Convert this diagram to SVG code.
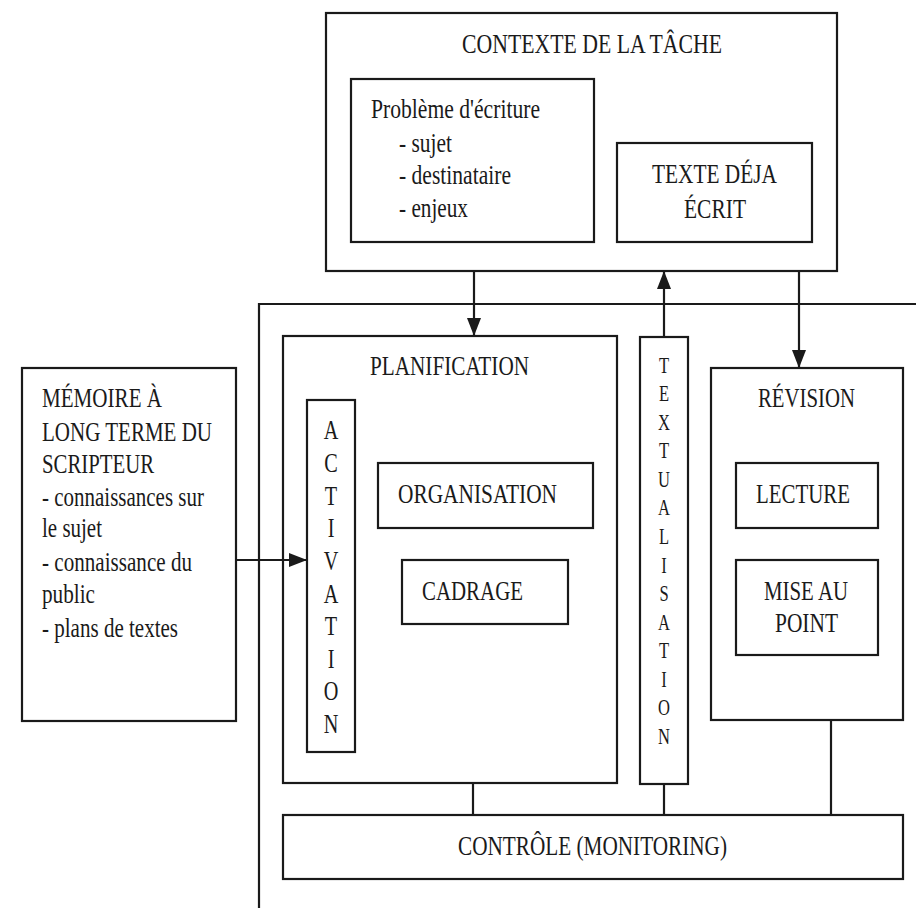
<svg xmlns="http://www.w3.org/2000/svg" width="916" height="908" viewBox="0 0 916 908">
<style>
.b{fill:none;stroke:#1a1a1a;stroke-width:2.2}
.c{fill:none;stroke:#1a1a1a;stroke-width:2.2}
text{font-family:"Liberation Serif","Times New Roman",serif;font-size:27px;fill:#1a1a1a}
.v{text-anchor:middle}
</style>
<defs>
<marker id="ah" markerUnits="userSpaceOnUse" markerWidth="18" markerHeight="14" refX="18" refY="7" orient="auto">
<path d="M0,0 L18,7 L0,14 z" fill="#1a1a1a"/>
</marker>
</defs>
<rect width="916" height="908" fill="#fff"/>
<path class="b" d="M259,908 V304 H916"/>
<g id="contexte">
<rect class="b" x="326" y="13" width="511" height="258"/>
<text x="462" y="53" textLength="260" lengthAdjust="spacingAndGlyphs">CONTEXTE DE LA TÂCHE</text>
</g>
<g id="probleme">
<rect class="b" x="351" y="79" width="243" height="163"/>
<text x="371" y="118" textLength="169" lengthAdjust="spacingAndGlyphs">Problème d'écriture</text>
<text x="399" y="152" textLength="53" lengthAdjust="spacingAndGlyphs">- sujet</text>
<text x="399" y="184" textLength="112" lengthAdjust="spacingAndGlyphs">- destinataire</text>
<text x="399" y="217" textLength="69" lengthAdjust="spacingAndGlyphs">- enjeux</text>
</g>
<g id="texte">
<rect class="b" x="617" y="143" width="195" height="99"/>
<text x="652" y="183" textLength="125" lengthAdjust="spacingAndGlyphs">TEXTE DÉJA</text>
<text x="684" y="218" textLength="62" lengthAdjust="spacingAndGlyphs">ÉCRIT</text>
</g>
<g id="memoire">
<rect class="b" x="22" y="368" width="214" height="353"/>
<text x="42" y="407" textLength="120" lengthAdjust="spacingAndGlyphs">MÉMOIRE À</text>
<text x="42" y="441" textLength="170" lengthAdjust="spacingAndGlyphs">LONG TERME DU</text>
<text x="42" y="473" textLength="112" lengthAdjust="spacingAndGlyphs">SCRIPTEUR</text>
<text x="42" y="506" textLength="162" lengthAdjust="spacingAndGlyphs">- connaissances sur</text>
<text x="42" y="537" textLength="60" lengthAdjust="spacingAndGlyphs">le sujet</text>
<text x="42" y="571" textLength="150" lengthAdjust="spacingAndGlyphs">- connaissance du</text>
<text x="42" y="603" textLength="53" lengthAdjust="spacingAndGlyphs">public</text>
<text x="42" y="637" textLength="136" lengthAdjust="spacingAndGlyphs">- plans de textes</text>
</g>
<g id="planification">
<rect class="b" x="283" y="336" width="334" height="447"/>
<text x="370" y="375" textLength="159" lengthAdjust="spacingAndGlyphs">PLANIFICATION</text>
</g>
<g id="activation">
<rect class="b" x="307" y="400" width="48" height="352"/>
<text class="v" transform="translate(331 0) scale(0.75 1)">
<tspan x="0" y="439">A</tspan><tspan x="0" y="472">C</tspan><tspan x="0" y="505">T</tspan><tspan x="0" y="537">I</tspan><tspan x="0" y="570">V</tspan><tspan x="0" y="603">A</tspan><tspan x="0" y="635">T</tspan><tspan x="0" y="668">I</tspan><tspan x="0" y="700">O</tspan><tspan x="0" y="733">N</tspan>
</text>
</g>
<g id="organisation">
<rect class="b" x="378" y="463" width="215" height="65"/>
<text x="398" y="503" textLength="159" lengthAdjust="spacingAndGlyphs">ORGANISATION</text>
</g>
<g id="cadrage">
<rect class="b" x="402" y="560" width="166" height="64"/>
<text x="422" y="600" textLength="101" lengthAdjust="spacingAndGlyphs">CADRAGE</text>
</g>
<g id="textualisation">
<rect class="b" x="640" y="337" width="48" height="447"/>
<text class="v" style="font-size:23px" transform="translate(664 0) scale(0.72 1)">
<tspan x="0" y="373">T</tspan><tspan x="0" y="401">E</tspan><tspan x="0" y="430">X</tspan><tspan x="0" y="458">T</tspan><tspan x="0" y="487">U</tspan><tspan x="0" y="515">A</tspan><tspan x="0" y="544">L</tspan><tspan x="0" y="573">I</tspan><tspan x="0" y="601">S</tspan><tspan x="0" y="630">A</tspan><tspan x="0" y="658">T</tspan><tspan x="0" y="687">I</tspan><tspan x="0" y="715">O</tspan><tspan x="0" y="744">N</tspan>
</text>
</g>
<g id="revision">
<rect class="b" x="711" y="368" width="192" height="352"/>
<text x="758" y="407" textLength="97" lengthAdjust="spacingAndGlyphs">RÉVISION</text>
</g>
<g id="lecture">
<rect class="b" x="736" y="463" width="142" height="65"/>
<text x="756" y="503" textLength="94" lengthAdjust="spacingAndGlyphs">LECTURE</text>
</g>
<g id="miseaupoint">
<rect class="b" x="736" y="560" width="142" height="95"/>
<text x="764" y="600" textLength="84" lengthAdjust="spacingAndGlyphs">MISE AU</text>
<text x="775" y="632" textLength="63" lengthAdjust="spacingAndGlyphs">POINT</text>
</g>
<g id="controle">
<rect class="b" x="283" y="815" width="620" height="64"/>
<text x="458" y="855" textLength="269" lengthAdjust="spacingAndGlyphs">CONTRÔLE (MONITORING)</text>
</g>
<g id="connectors">
<line class="c" x1="474" y1="271" x2="474" y2="336" marker-end="url(#ah)"/>
<line class="c" x1="664" y1="337" x2="664" y2="271" marker-end="url(#ah)"/>
<line class="c" x1="799" y1="271" x2="799" y2="368" marker-end="url(#ah)"/>
<line class="c" x1="236" y1="560" x2="307" y2="560" marker-end="url(#ah)"/>
<line class="c" x1="473" y1="783" x2="473" y2="815"/>
<line class="c" x1="664" y1="784" x2="664" y2="815"/>
<line class="c" x1="831" y1="720" x2="831" y2="815"/>
</g>
</svg>
